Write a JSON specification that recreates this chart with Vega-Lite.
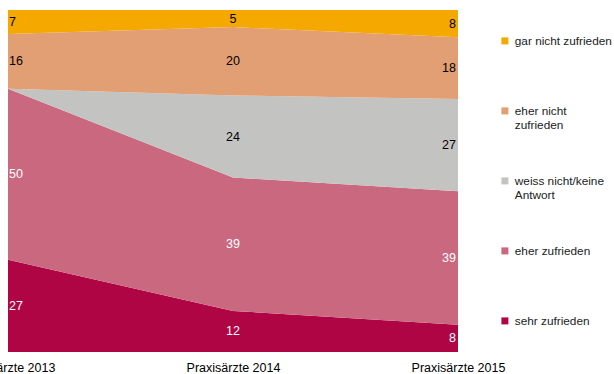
{
  "$schema": "https://vega.github.io/schema/vega-lite/v6.json",
  "width": 450,
  "height": 342,
  "autosize": {"type": "none"},
  "padding": {"left": 8, "top": 10, "right": 156, "bottom": 22},
  "background": "white",
  "config": {"view": {"stroke": null}, "font": "Liberation Sans"},
  "data": {"values": [
    {"jahr": "Praxisärzte 2013", "kategorie": "sehr zufrieden", "wert": 27},
    {"jahr": "Praxisärzte 2013", "kategorie": "eher zufrieden", "wert": 50},
    {"jahr": "Praxisärzte 2013", "kategorie": "weiss nicht/keine Antwort", "wert": 0},
    {"jahr": "Praxisärzte 2013", "kategorie": "eher nicht zufrieden", "wert": 16},
    {"jahr": "Praxisärzte 2013", "kategorie": "gar nicht zufrieden", "wert": 7},
    {"jahr": "Praxisärzte 2014", "kategorie": "sehr zufrieden", "wert": 12},
    {"jahr": "Praxisärzte 2014", "kategorie": "eher zufrieden", "wert": 39},
    {"jahr": "Praxisärzte 2014", "kategorie": "weiss nicht/keine Antwort", "wert": 24},
    {"jahr": "Praxisärzte 2014", "kategorie": "eher nicht zufrieden", "wert": 20},
    {"jahr": "Praxisärzte 2014", "kategorie": "gar nicht zufrieden", "wert": 5},
    {"jahr": "Praxisärzte 2015", "kategorie": "sehr zufrieden", "wert": 8},
    {"jahr": "Praxisärzte 2015", "kategorie": "eher zufrieden", "wert": 39},
    {"jahr": "Praxisärzte 2015", "kategorie": "weiss nicht/keine Antwort", "wert": 27},
    {"jahr": "Praxisärzte 2015", "kategorie": "eher nicht zufrieden", "wert": 18},
    {"jahr": "Praxisärzte 2015", "kategorie": "gar nicht zufrieden", "wert": 8}
  ]},
  "transform": [
    {"calculate": "indexof(['sehr zufrieden','eher zufrieden','weiss nicht/keine Antwort','eher nicht zufrieden','gar nicht zufrieden'], datum.kategorie)", "as": "ord"},
    {"stack": "wert", "groupby": ["jahr"], "sort": [{"field": "ord", "order": "ascending"}], "as": ["y0", "y1"]},
    {"calculate": "(datum.y0 + datum.y1) / 2", "as": "ymid"}
  ],
  "encoding": {
    "x": {
      "field": "jahr", "type": "ordinal",
      "scale": {"type": "point", "padding": 0},
      "axis": {"title": null, "domain": false, "ticks": false, "grid": false, "labelAngle": 0,
               "labelFontSize": 12.5, "labelColor": "#000", "labelPadding": 9,
               "labelFlush": false, "labelOverlap": false, "labelBound": false}
    }
  },
  "layer": [
    {
      "mark": {"type": "area", "interpolate": "linear"},
      "encoding": {
        "y": {"field": "y1", "type": "quantitative", "stack": null, "scale": {"domain": [0, 100], "nice": false}, "axis": null},
        "y2": {"field": "y0"},
        "order": {"field": "ord", "type": "quantitative"},
        "color": {
          "field": "kategorie", "type": "nominal",
          "scale": {
            "domain": ["gar nicht zufrieden", "eher nicht zufrieden", "weiss nicht/keine Antwort", "eher zufrieden", "sehr zufrieden"],
            "range": ["#F5A800", "#E29F74", "#C3C3C1", "#C9687F", "#B00545"]
          },
          "legend": {
            "orient": "none", "legendX": 491, "legendY": 25,
            "title": null, "symbolType": "square", "symbolSize": 49, "symbolStrokeWidth": 0,
            "labelFontSize": 11.8, "labelColor": "#222", "labelOffset": 4, "labelLimit": 200,
            "rowPadding": 43, "padding": 0,
            "labelExpr": "datum.label == 'eher nicht zufrieden' ? ['eher nicht', 'zufrieden'] : datum.label == 'weiss nicht/keine Antwort' ? ['weiss nicht/keine', 'Antwort'] : [datum.label, ' ']"
          }
        }
      }
    },
    {
      "transform": [{"filter": "datum.wert > 0 && datum.jahr == 'Praxisärzte 2013'"}],
      "mark": {"type": "text", "align": "left", "dx": 1, "fontSize": 12.5, "baseline": "middle"},
      "encoding": {
        "y": {"field": "ymid", "type": "quantitative", "scale": {"domain": [0, 100], "nice": false}},
        "text": {"field": "wert", "type": "quantitative"},
        "color": {"condition": {"test": "datum.kategorie == 'sehr zufrieden' || datum.kategorie == 'eher zufrieden'", "value": "#ffffff"}, "value": "#000000"}
      }
    },
    {
      "transform": [{"filter": "datum.wert > 0 && datum.jahr == 'Praxisärzte 2014'"}],
      "mark": {"type": "text", "align": "center", "fontSize": 12.5, "baseline": "middle"},
      "encoding": {
        "y": {"field": "ymid", "type": "quantitative", "scale": {"domain": [0, 100], "nice": false}},
        "text": {"field": "wert", "type": "quantitative"},
        "color": {"condition": {"test": "datum.kategorie == 'sehr zufrieden' || datum.kategorie == 'eher zufrieden'", "value": "#ffffff"}, "value": "#000000"}
      }
    },
    {
      "transform": [{"filter": "datum.wert > 0 && datum.jahr == 'Praxisärzte 2015'"}],
      "mark": {"type": "text", "align": "right", "dx": -2, "fontSize": 12.5, "baseline": "middle"},
      "encoding": {
        "y": {"field": "ymid", "type": "quantitative", "scale": {"domain": [0, 100], "nice": false}},
        "text": {"field": "wert", "type": "quantitative"},
        "color": {"condition": {"test": "datum.kategorie == 'sehr zufrieden' || datum.kategorie == 'eher zufrieden'", "value": "#ffffff"}, "value": "#000000"}
      }
    }
  ]
}
